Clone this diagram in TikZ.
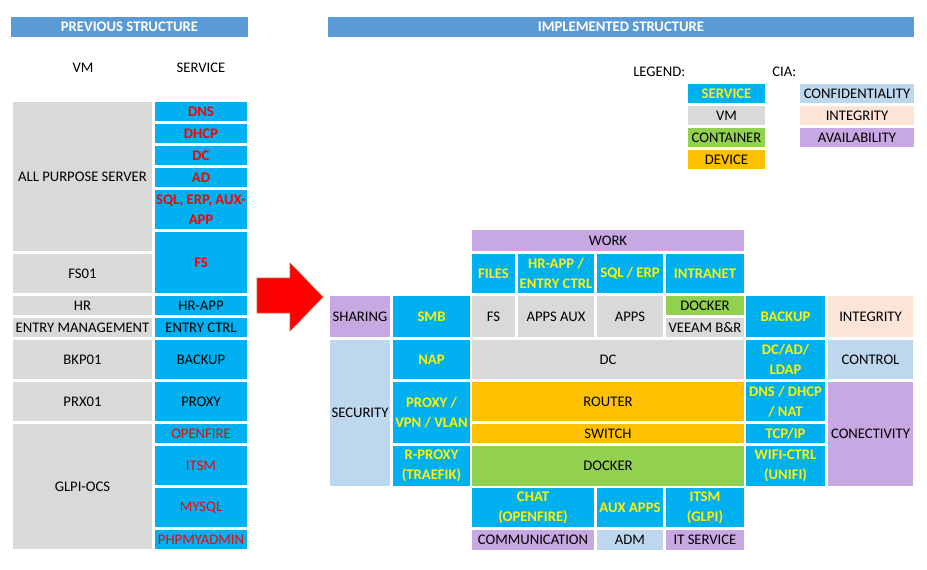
\documentclass[tikz,border=0pt]{standalone}
\usepackage{fontspec}
\setmainfont{Carlito}
\usepackage{tikz}
\usetikzlibrary{positioning}

\definecolor{hdrblue}{HTML}{5B9BD5}
\definecolor{svcblue}{HTML}{00B0F0}
\definecolor{vmgrey}{HTML}{D9D9D9}
\definecolor{ctgreen}{HTML}{92D050}
\definecolor{devorange}{HTML}{FFC000}
\definecolor{confblue}{HTML}{BDD7EE}
\definecolor{integpeach}{HTML}{FCE4D6}
\definecolor{availpurple}{HTML}{C8A8E2}
\definecolor{arrowedge}{RGB}{190,100,60}

\tikzset{
  gridbox/.style={rectangle, inner sep=0pt, align=center, font=\fontsize{11}{15}\selectfont},
  vmbox/.style={gridbox, fill=vmgrey},
  svcbox/.style={gridbox, fill=svcblue, text=yellow, font=\fontsize{11}{15}\selectfont\bfseries},
  oldsvc/.style={gridbox, fill=svcblue},
  redsvc/.style={gridbox, fill=svcblue, text=red},
  redbold/.style={redsvc, font=\fontsize{11}{15}\selectfont\bfseries},
  ctbox/.style={gridbox, fill=ctgreen},
  devbox/.style={gridbox, fill=devorange},
  confbox/.style={gridbox, fill=confblue},
  integbox/.style={gridbox, fill=integpeach},
  availbox/.style={gridbox, fill=availpurple},
  hdrbox/.style={gridbox, fill=hdrblue, text=white, font=\fontsize{11}{15}\selectfont\bfseries},
  plain/.style={gridbox}
}

% one cell of the sheet: [style]{name}{x1}{y1}{x2}{y2}{text}
\newcommand{\gridcell}[7][]{%
  \node[#1, minimum width={(#5-#3)*0.75pt}, minimum height={(#6-#4)*0.75pt}]
    (#2) at ({(#3+#5)/2},{(#4+#6)/2}) {#7};}

\begin{document}
\begin{tikzpicture}[x=0.75pt, y=-0.75pt]
  \useasboundingbox (0,0) rectangle (927,569);

  % Previous structure
  \gridcell[hdrbox]{hdrprev}{11}{17}{248}{37}{PREVIOUS STRUCTURE}
  \node[plain] (vmtitle) at (83,68) {VM};
  \node[plain] (svctitle) at (201,68) {SERVICE};

  \gridcell[vmbox]{allpurpose}{13}{102}{152}{251}{ALL PURPOSE SERVER}
  \gridcell[vmbox]{fs01}{13}{254}{152}{293}{FS01}
  \gridcell[vmbox]{hr}{13}{296}{152}{315}{HR}
  \gridcell[vmbox]{entry}{13}{318}{152}{337}{ENTRY MANAGEMENT}
  \gridcell[vmbox]{bkp01}{13}{340}{152}{379}{BKP01}
  \gridcell[vmbox]{prx01}{13}{382}{152}{421}{PRX01}
  \gridcell[vmbox]{glpi}{13}{424}{152}{549}{GLPI-OCS}

  \gridcell[redbold]{dns}{155}{102}{247}{121}{DNS}
  \gridcell[redbold]{dhcp}{155}{124}{247}{143}{DHCP}
  \gridcell[redbold]{dc}{155}{146}{247}{165}{DC}
  \gridcell[redbold]{ad}{155}{168}{247}{187}{AD}
  \gridcell[redbold]{sql}{155}{190}{247}{229}{SQL, ERP, AUX-\\APP}
  \gridcell[redbold]{fs}{155}{232}{247}{293}{FS}
  \gridcell[oldsvc]{hrapp}{155}{296}{247}{315}{HR-APP}
  \gridcell[oldsvc]{entryctrl}{155}{318}{247}{337}{ENTRY CTRL}
  \gridcell[oldsvc]{backup}{155}{340}{247}{379}{BACKUP}
  \gridcell[oldsvc]{proxy}{155}{382}{247}{421}{PROXY}
  \gridcell[redsvc]{openfire}{155}{424}{247}{443}{OPENFIRE}
  \gridcell[redsvc]{itsm}{155}{446}{247}{485}{ITSM}
  \gridcell[redsvc]{mysql}{155}{488}{247}{527}{MYSQL}
  \gridcell[redsvc]{phpmyadmin}{155}{530}{247}{549}{PHPMYADMIN}

  % Arrow
  \fill[red, draw=arrowedge, line width=0.4pt]
    (257,278) -- (290,278) -- (290,263) -- (323,297) -- (290,331) -- (290,313) -- (257,313) -- cycle;

  % Implemented structure
  \gridcell[hdrbox]{hdrimpl}{328}{17}{914}{37}{IMPLEMENTED STRUCTURE}

  % Legend
  \node[plain, anchor=west] (legend) at (633,72) {LEGEND:};
  \node[plain, anchor=west] (cia) at (772,72) {CIA:};
  \gridcell[svcbox]{lgsvc}{688}{84}{765}{103}{SERVICE}
  \gridcell[vmbox]{lgvm}{688}{106}{765}{125}{VM}
  \gridcell[ctbox]{lgct}{688}{128}{765}{147}{CONTAINER}
  \gridcell[devbox]{lgdev}{688}{150}{765}{169}{DEVICE}
  \gridcell[confbox]{lgconf}{800}{84}{914}{103}{CONFIDENTIALITY}
  \gridcell[integbox]{lginteg}{800}{106}{914}{125}{INTEGRITY}
  \gridcell[availbox]{lgavail}{800}{128}{914}{147}{AVAILABILITY}

  % Grid
  \gridcell[availbox]{work}{472}{230}{744}{251}{WORK}
  \gridcell[svcbox]{files}{472}{254}{515}{293}{FILES}
  \gridcell[svcbox]{hrapp2}{518}{254}{594}{293}{HR-APP /\\ENTRY CTRL}
  \gridcell[svcbox]{sqlerp}{597}{254}{663}{293}{SQL / ERP}
  \gridcell[svcbox]{intranet}{666}{254}{744}{293}{INTRANET}

  \gridcell[availbox]{sharing}{330}{296}{390}{337}{SHARING}
  \gridcell[svcbox]{smb}{393}{296}{470}{337}{SMB}
  \gridcell[vmbox]{fsvm}{472}{296}{515}{337}{FS}
  \gridcell[vmbox]{appsaux}{518}{296}{594}{337}{APPS AUX}
  \gridcell[vmbox]{apps}{597}{296}{663}{337}{APPS}
  \gridcell[ctbox]{dockersm}{666}{296}{744}{315}{DOCKER}
  \gridcell[vmbox]{veeam}{666}{318}{744}{337}{VEEAM B\&R}
  \gridcell[svcbox]{backup2}{746}{296}{825}{337}{BACKUP}
  \gridcell[integbox]{integrity}{828}{296}{913}{337}{INTEGRITY}

  \gridcell[confbox]{security}{330}{340}{390}{486}{SECURITY}
  \gridcell[svcbox]{nap}{393}{340}{470}{379}{NAP}
  \gridcell[vmbox]{dcvm}{472}{340}{744}{379}{DC}
  \gridcell[svcbox]{dcad}{746}{340}{825}{379}{DC/AD/\\LDAP}
  \gridcell[confbox]{control}{828}{340}{913}{379}{CONTROL}

  \gridcell[svcbox]{proxyvpn}{393}{382}{470}{443}{PROXY /\\VPN / VLAN}
  \gridcell[devbox]{router}{472}{382}{744}{421}{ROUTER}
  \gridcell[devbox]{switch}{472}{424}{744}{443}{SWITCH}
  \gridcell[svcbox]{rproxy}{393}{446}{470}{486}{R-PROXY\\(TRAEFIK)}
  \gridcell[ctbox]{dockerbig}{472}{446}{744}{486}{DOCKER}
  \gridcell[svcbox]{dnsnat}{746}{382}{825}{421}{DNS / DHCP\\/ NAT}
  \gridcell[svcbox]{tcpip}{746}{424}{825}{443}{TCP/IP}
  \gridcell[svcbox]{wifi}{746}{446}{825}{486}{WIFI-CTRL\\(UNIFI)}
  \gridcell[availbox]{conect}{828}{382}{913}{486}{CONECTIVITY}

  \gridcell[svcbox]{chat}{472}{488}{594}{527}{CHAT\\(OPENFIRE)}
  \gridcell[svcbox]{auxapps}{597}{488}{663}{527}{AUX APPS}
  \gridcell[svcbox]{itsm2}{666}{488}{744}{527}{ITSM\\(GLPI)}
  \gridcell[availbox]{comm}{472}{530}{594}{550}{COMMUNICATION}
  \gridcell[confbox]{adm}{597}{530}{663}{550}{ADM}
  \gridcell[availbox]{itserv}{666}{530}{744}{550}{IT SERVICE}

\end{tikzpicture}
\end{document}
